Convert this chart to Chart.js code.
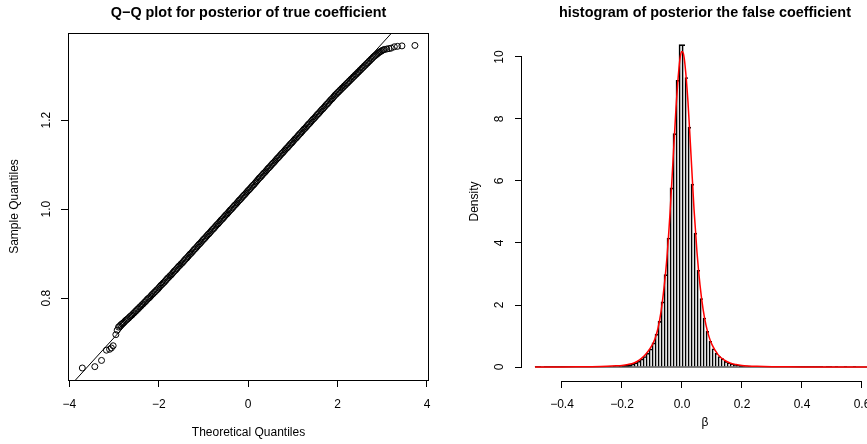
<!DOCTYPE html>
<html>
<head>
<meta charset="utf-8">
<script src="https://cdn.jsdelivr.net/npm/chart.js@4"></script>
<style>
  html, body { margin: 0; padding: 0; background: #fff; overflow: hidden; }
  body { width: 867px; height: 444px; position: relative; }
  canvas { position: absolute; top: 0; }
  #qq { left: 0; }
  #hist { left: 434px; }
</style>
</head>
<body>
<canvas id="qq" width="434" height="444"></canvas>
<canvas id="hist" width="454" height="444"></canvas>
<script>
// Q-Q plot: theoretical vs sample quantiles
const qqTheoretical = [
  -3.71, -3.43, -3.28, -3.17, -3.10, -3.06, -3.02, -2.96, -2.93,
  -2.900, -2.875, -2.850, -2.825, -2.800, -2.775, -2.750, -2.725, -2.700, -2.675,
  -2.650, -2.625, -2.600, -2.575, -2.550, -2.525, -2.500, -2.475, -2.450, -2.425,
  -2.400, -2.375, -2.350, -2.325, -2.300, -2.275, -2.250, -2.225, -2.200, -2.175,
  -2.150, -2.125, -2.100, -2.075, -2.050, -2.025, -2.000, -1.975, -1.950, -1.925,
  -1.900, -1.875, -1.850, -1.825, -1.800, -1.775, -1.750, -1.725, -1.700, -1.675,
  -1.650, -1.625, -1.600, -1.575, -1.550, -1.525, -1.500, -1.475, -1.450, -1.425,
  -1.400, -1.375, -1.350, -1.325, -1.300, -1.275, -1.250, -1.225, -1.200, -1.175,
  -1.150, -1.125, -1.100, -1.075, -1.050, -1.025, -1.000, -0.975, -0.950, -0.925,
  -0.900, -0.875, -0.850, -0.825, -0.800, -0.775, -0.750, -0.725, -0.700, -0.675,
  -0.650, -0.625, -0.600, -0.575, -0.550, -0.525, -0.500, -0.475, -0.450, -0.425,
  -0.400, -0.375, -0.350, -0.325, -0.300, -0.275, -0.250, -0.225, -0.200, -0.175,
  -0.150, -0.125, -0.100, -0.075, -0.050, -0.025, 0.000, 0.025, 0.050, 0.075,
  0.100, 0.125, 0.150, 0.175, 0.200, 0.225, 0.250, 0.275, 0.300, 0.325,
  0.350, 0.375, 0.400, 0.425, 0.450, 0.475, 0.500, 0.525, 0.550, 0.575,
  0.600, 0.625, 0.650, 0.675, 0.700, 0.725, 0.750, 0.775, 0.800, 0.825,
  0.850, 0.875, 0.900, 0.925, 0.950, 0.975, 1.000, 1.025, 1.050, 1.075,
  1.100, 1.125, 1.150, 1.175, 1.200, 1.225, 1.250, 1.275, 1.300, 1.325,
  1.350, 1.375, 1.400, 1.425, 1.450, 1.475, 1.500, 1.525, 1.550, 1.575,
  1.600, 1.625, 1.650, 1.675, 1.700, 1.725, 1.750, 1.775, 1.800, 1.825,
  1.850, 1.875, 1.900, 1.925, 1.950, 1.975, 2.000, 2.025, 2.050, 2.075,
  2.100, 2.125, 2.150, 2.175, 2.200, 2.225, 2.250, 2.275, 2.300, 2.325,
  2.350, 2.375, 2.400, 2.425, 2.450, 2.475, 2.500, 2.525, 2.550, 2.575,
  2.600, 2.625, 2.650, 2.675, 2.700, 2.725, 2.750, 2.775, 2.800, 2.825,
  2.850, 2.875, 2.900, 2.925, 2.950, 2.975, 3.000, 3.025, 3.050,
  3.10, 3.15, 3.20, 3.27, 3.34, 3.44, 3.73
];
const qqSample = [
  0.643, 0.646, 0.660, 0.683, 0.685, 0.688, 0.693, 0.718, 0.728,
  0.735, 0.737, 0.740, 0.742, 0.744, 0.746, 0.749, 0.751, 0.753, 0.755,
  0.758, 0.760, 0.762, 0.765, 0.767, 0.770, 0.772, 0.775, 0.777, 0.780,
  0.782, 0.785, 0.787, 0.790, 0.792, 0.795, 0.798, 0.800, 0.802, 0.805,
  0.808, 0.810, 0.813, 0.815, 0.818, 0.820, 0.823, 0.826, 0.829, 0.831,
  0.834, 0.836, 0.839, 0.842, 0.845, 0.847, 0.850, 0.852, 0.855, 0.858,
  0.861, 0.863, 0.866, 0.869, 0.872, 0.874, 0.877, 0.879, 0.882, 0.885,
  0.888, 0.890, 0.893, 0.896, 0.899, 0.901, 0.904, 0.907, 0.910, 0.912,
  0.915, 0.918, 0.921, 0.923, 0.926, 0.929, 0.932, 0.934, 0.937, 0.940,
  0.943, 0.945, 0.948, 0.951, 0.954, 0.956, 0.959, 0.962, 0.965, 0.967,
  0.970, 0.973, 0.976, 0.978, 0.981, 0.984, 0.987, 0.989, 0.992, 0.995,
  0.998, 1.000, 1.003, 1.006, 1.009, 1.011, 1.014, 1.017, 1.020, 1.022,
  1.025, 1.028, 1.031, 1.033, 1.036, 1.039, 1.042, 1.044, 1.047, 1.050,
  1.053, 1.055, 1.058, 1.061, 1.064, 1.067, 1.070, 1.072, 1.075, 1.078,
  1.081, 1.083, 1.086, 1.089, 1.092, 1.094, 1.097, 1.100, 1.103, 1.105,
  1.108, 1.111, 1.114, 1.116, 1.119, 1.122, 1.125, 1.127, 1.130, 1.133,
  1.136, 1.138, 1.141, 1.144, 1.147, 1.149, 1.152, 1.155, 1.158, 1.160,
  1.163, 1.166, 1.169, 1.171, 1.174, 1.177, 1.180, 1.182, 1.185, 1.188,
  1.191, 1.193, 1.196, 1.199, 1.202, 1.204, 1.207, 1.210, 1.213, 1.215,
  1.218, 1.221, 1.224, 1.226, 1.229, 1.232, 1.235, 1.237, 1.240, 1.243,
  1.246, 1.248, 1.251, 1.254, 1.257, 1.259, 1.262, 1.264, 1.267, 1.269,
  1.272, 1.274, 1.277, 1.279, 1.282, 1.284, 1.287, 1.289, 1.292, 1.294,
  1.297, 1.299, 1.302, 1.304, 1.307, 1.309, 1.312, 1.314, 1.317, 1.319,
  1.322, 1.324, 1.327, 1.329, 1.332, 1.334, 1.337, 1.339, 1.342, 1.344,
  1.346, 1.348, 1.350, 1.352, 1.354, 1.355, 1.357, 1.358, 1.359,
  1.360, 1.361, 1.362, 1.365, 1.366, 1.367, 1.368
];
// reference line (qqline) end points
const qqLineX = [-5, 5];
const qqLineY = [0.4905, 1.5935];
const qqXTicks = [-4, -2, 0, 2, 4];
const qqYTicks = [0.8, 1.0, 1.2];

// histogram of the false coefficient, bins of 0.01 starting at -0.49
const histStart = -0.49;
const histBinWidth = 0.01;
const histDensity = [
  0.001, 0.001, 0, 0.001, 0.001, 0.002, 0.001, 0.002, 0.003, 0.002,
  0.003, 0.003, 0.004, 0.004, 0.005, 0.006, 0.007, 0.008, 0.010, 0.011,
  0.013, 0.015, 0.017, 0.020, 0.022, 0.025, 0.030, 0.035, 0.040, 0.050,
  0.060, 0.075, 0.10, 0.14, 0.19, 0.26, 0.34, 0.45, 0.58, 0.78,
  1.06, 1.47, 2.10, 2.98, 4.16, 5.78, 7.53, 9.25, 10.40,
  10.40, 9.34, 7.74, 5.90, 4.32, 3.12, 2.21, 1.58, 1.15, 0.83,
  0.59, 0.45, 0.34, 0.27, 0.18, 0.14, 0.11, 0.085, 0.065, 0.050,
  0.040, 0.035, 0.030, 0.025, 0.020, 0.018, 0.015, 0.013, 0.011, 0.010,
  0.008, 0.007, 0.006, 0.005, 0.005, 0.004, 0.004, 0.003, 0.003, 0.002,
  0.002, 0.002, 0.001, 0.002, 0.001, 0.001, 0.001, 0, 0.001, 0.001,
  0, 0.001, 0, 0, 0.001, 0, 0, 0.001, 0, 0, 0, 0, 0, 0.001
];
// kernel density curve (red)
const kdeX = [-0.49, -0.40, -0.35, -0.30, -0.25, -0.22, -0.20, -0.18, -0.16, -0.14,
  -0.12, -0.10, -0.09, -0.08, -0.07, -0.06, -0.05, -0.04, -0.03, -0.02, -0.01, -0.005,
  0, 0.005, 0.01, 0.02, 0.03, 0.04, 0.05, 0.06, 0.07, 0.08, 0.09, 0.10, 0.12, 0.14,
  0.16, 0.18, 0.20, 0.22, 0.25, 0.30, 0.35, 0.40, 0.50, 0.64];
const kdeY = [0.001, 0.003, 0.006, 0.012, 0.024, 0.038, 0.052, 0.08, 0.13, 0.24,
  0.42, 0.70, 0.91, 1.25, 1.78, 2.55, 3.55, 4.95, 6.65, 8.35, 9.65, 10.05,
  10.18, 10.10, 9.75, 8.55, 6.85, 5.10, 3.70, 2.65, 1.88, 1.35, 0.98, 0.72, 0.40, 0.23,
  0.13, 0.08, 0.05, 0.035, 0.022, 0.010, 0.006, 0.003, 0.001, 0.0005];
const histXTicks = [-0.4, -0.2, 0, 0.2, 0.4, 0.6];
const histYTicks = [0, 2, 4, 6, 8, 10];

const black = '#000';
Chart.defaults.font.family = '"Liberation Sans", Arial, Helvetica, sans-serif';
Chart.defaults.font.size = 12;
Chart.defaults.color = black;

// R style labels: real minus sign
function fmt(v, digits) {
  const s = Math.abs(v).toFixed(digits);
  return (v < 0 ? '\u2212' : '') + s;
}
const setTicks = list => scale => { scale.ticks = list.map(v => ({ value: v })); };
const tickGrid = { display: true, drawOnChartArea: false, color: black, tickLength: 7, lineWidth: 1 };
const titleFont = { size: 14.4, weight: 'bold' };

// box round the Q-Q panel
const boxPlugin = {
  id: 'boxPlugin',
  afterDraw(chart) {
    const a = chart.chartArea, ctx = chart.ctx;
    ctx.save();
    ctx.strokeStyle = black;
    ctx.lineWidth = 1;
    ctx.strokeRect(Math.round(a.left) + 0.5, Math.round(a.top) + 0.5, Math.round(a.width) - 1, Math.round(a.height));
    ctx.restore();
  }
};

// R axes: line only from first to last tick
const axisPlugin = {
  id: 'axisPlugin',
  afterDraw(chart) {
    const { ctx, chartArea: a, scales: { x, y } } = chart;
    ctx.save();
    ctx.strokeStyle = black;
    ctx.lineWidth = 1;
    ctx.beginPath();
    const by = Math.round(a.bottom) + 0.5;
    ctx.moveTo(x.getPixelForValue(histXTicks[0]), by);
    ctx.lineTo(x.getPixelForValue(histXTicks[histXTicks.length - 1]), by);
    const lx = Math.round(a.left) - 0.5;
    ctx.moveTo(lx, y.getPixelForValue(histYTicks[0]));
    ctx.lineTo(lx, y.getPixelForValue(histYTicks[histYTicks.length - 1]));
    ctx.stroke();
    ctx.restore();
  }
};

// Q-Q plot
new Chart(document.getElementById('qq'), {
  type: 'scatter',
  data: {
    datasets: [{
      label: 'sample',
      data: qqTheoretical.map((t, i) => ({ x: t, y: qqSample[i] })),
      pointStyle: 'circle',
      pointRadius: 3,
      pointBorderWidth: 1,
      borderColor: black,
      backgroundColor: 'rgba(0,0,0,0)'
    }, {
      label: 'qqline',
      data: qqLineX.map((t, i) => ({ x: t, y: qqLineY[i] })),
      showLine: true,
      pointRadius: 0,
      borderColor: black,
      borderWidth: 1
    }]
  },
  options: {
    responsive: false,
    animation: false,
    layout: { padding: { right: 2 } },
    plugins: { legend: { display: false }, tooltip: { enabled: false } },
    scales: {
      x: {
        type: 'linear', position: 'bottom', min: -4.03, max: 4.045,
        afterBuildTicks: setTicks(qqXTicks),
        afterFit: s => { s.height = 64; s.paddingLeft = 0; s.paddingRight = 0; },
        grid: tickGrid,
        border: { display: false },
        ticks: { padding: 10.8, autoSkip: false, maxRotation: 0, callback: v => fmt(v, 0) },
        title: { display: true, text: 'Theoretical Quantiles', padding: { top: 0, bottom: 3.8 } }
      },
      y: {
        type: 'linear', position: 'left', min: 0.616, max: 1.396,
        afterBuildTicks: setTicks(qqYTicks),
        afterFit: s => { s.width = 68; s.paddingTop = 0; s.paddingBottom = 0; },
        grid: tickGrid,
        border: { display: false },
        ticks: { padding: 6, minRotation: 90, maxRotation: 90, crossAlign: 'center', autoSkip: false, callback: v => fmt(v, 1) },
        title: { display: true, text: 'Sample Quantiles', padding: { top: 7.8, bottom: 0 } }
      },
      xTitle: {
        type: 'linear', position: 'top', min: 0, max: 1,
        afterFit: s => { s.height = 33; s.paddingLeft = 0; s.paddingRight = 0; },
        grid: { display: false }, border: { display: false }, ticks: { display: false },
        title: { display: true, text: 'Q\u2212Q plot for posterior of true coefficient', font: titleFont, padding: { top: 3.9, bottom: 0 } }
      }
    }
  },
  plugins: [boxPlugin]
});

// histogram with density curve
const histEnd = histStart + histDensity.length * histBinWidth;
new Chart(document.getElementById('hist'), {
  type: 'bar',
  data: {
    datasets: [{
      type: 'line',
      label: 'density',
      data: kdeX.map((t, i) => ({ x: t, y: kdeY[i] })),
      borderColor: '#ff0000',
      borderWidth: 1.5,
      pointRadius: 0,
      cubicInterpolationMode: 'monotone',
      order: 0
    }, {
      type: 'line',
      label: 'bin bottoms',
      data: [{ x: histStart, y: 0 }, { x: histEnd, y: 0 }],
      borderColor: black,
      borderWidth: 1,
      pointRadius: 0,
      order: 1
    }, {
      type: 'bar',
      label: 'histogram',
      data: histDensity.map((d, i) => ({ x: histStart + (i + 0.5) * histBinWidth, y: d })),
      backgroundColor: 'rgba(0,0,0,0)',
      borderColor: black,
      borderWidth: { top: 1, left: 1, right: 0, bottom: 0 },
      borderSkipped: false,
      barPercentage: 1,
      categoryPercentage: 1,
      grouped: false,
      order: 2
    }]
  },
  options: {
    responsive: false,
    animation: false,
    plugins: { legend: { display: false }, tooltip: { enabled: false } },
    scales: {
      x: {
        type: 'linear', position: 'bottom', min: -0.5333, max: 0.6867, offset: false,
        afterBuildTicks: setTicks(histXTicks),
        afterFit: s => { s.height = 63; s.paddingLeft = 0; s.paddingRight = 0; },
        grid: Object.assign({}, tickGrid, { offset: false }),
        border: { display: false },
        ticks: { padding: 9.8, autoSkip: false, maxRotation: 0, callback: v => fmt(v, 1) },
        title: { display: true, text: '\u03b2', padding: { top: 0, bottom: 13.8 } }
      },
      y: {
        type: 'linear', position: 'left', min: -0.4516, max: 11.129,
        afterBuildTicks: setTicks(histYTicks),
        afterFit: s => { s.width = 88; s.paddingTop = 0; s.paddingBottom = 0; },
        grid: tickGrid,
        border: { display: false },
        ticks: { padding: 8.3, minRotation: 90, maxRotation: 90, crossAlign: 'center', autoSkip: false, callback: v => fmt(v, 0) },
        title: { display: true, text: 'Density', padding: { top: 33.8, bottom: 0 } }
      },
      xTitle: {
        type: 'linear', position: 'top', min: 0, max: 1,
        afterFit: s => { s.height = 22; s.paddingLeft = 0; s.paddingRight = 0; },
        grid: { display: false }, border: { display: false }, ticks: { display: false },
        title: { display: true, text: 'histogram of posterior the false coefficient', font: titleFont, padding: { top: 3.9, bottom: 0 } }
      }
    }
  },
  plugins: [axisPlugin]
});
</script>
</body>
</html>
